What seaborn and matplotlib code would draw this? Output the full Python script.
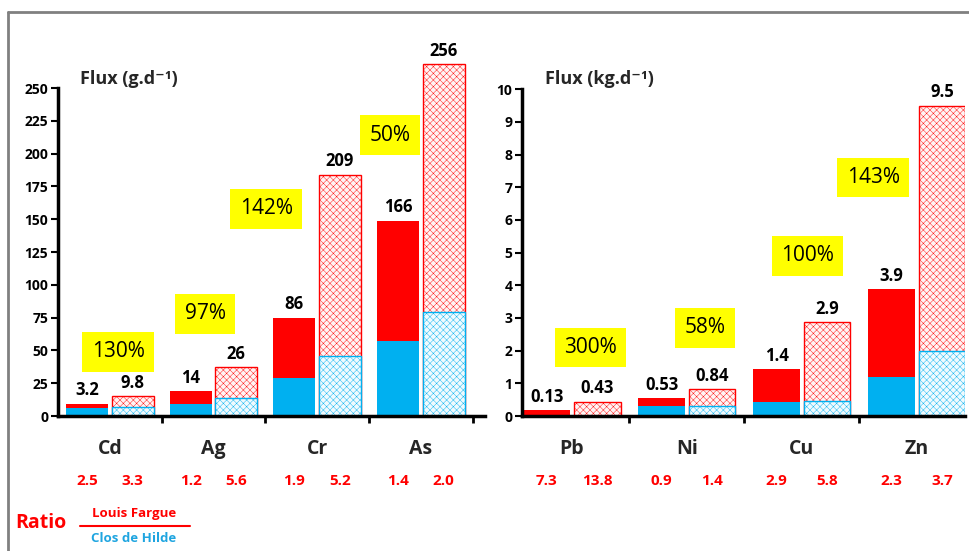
import numpy as np
import pandas as pd
import matplotlib.pyplot as plt
from matplotlib.lines import Line2D
import seaborn as sns

# --- data ---
left_elements = ['Cd', 'Ag', 'Cr', 'As']
right_elements = ['Pb', 'Ni', 'Cu', 'Zn']

# stacked bars as drawn: total height (red part on top) and blue part at the bottom
left_total_1 = [9.5, 19, 75, 149]
left_blue_1 = [6, 9.5, 29, 57]
left_total_2 = [15, 37, 184, 268]
left_blue_2 = [7, 14, 46, 79]

right_total_1 = [0.18, 0.54, 1.44, 3.89]
right_blue_1 = [0, 0.30, 0.44, 1.20]
right_total_2 = [0.44, 0.83, 2.87, 9.50]
right_blue_2 = [0, 0.32, 0.46, 1.99]

# value labels printed above the bars
left_labels_1 = ['3.2', '14', '86', '166']
left_labels_2 = ['9.8', '26', '209', '256']
right_labels_1 = ['0.13', '0.53', '1.4', '3.9']
right_labels_2 = ['0.43', '0.84', '2.9', '9.5']

# yellow percentage boxes
left_pct = ['130%', '97%', '142%', '50%']
right_pct = ['300%', '58%', '100%', '143%']

# ratios Louis Fargue / Clos de Hilde under each bar
left_ratio_1 = ['2.5', '1.2', '1.9', '1.4']
left_ratio_2 = ['3.3', '5.6', '5.2', '2.0']
right_ratio_1 = ['7.3', '0.9', '2.9', '2.3']
right_ratio_2 = ['13.8', '1.4', '5.8', '3.7']

RED = '#ff0000'
BLUE = '#00b0f0'
YELLOW = '#ffff00'
FONT = ['Open Sans', 'DejaVu Sans']

sns.set_theme(style='white')
plt.rcParams['font.family'] = FONT
plt.rcParams['hatch.linewidth'] = 0.3

W, H = 970, 551


def fx(px):
    return px / W


def fy(py):
    return 1 - py / H


def make_df(elements, t1, t2, b1, b2):
    return pd.DataFrame({
        'element': elements * 2,
        'series': ['1'] * 4 + ['2'] * 4,
        'total': t1 + t2,
        'blue': b1 + b2,
    })


def draw_panel(ax, df, elements, labels_1, labels_2, ratio_1, ratio_2,
               pct, pct_xy, ymax, ytop, yticks, xlim, xticks):
    kw = dict(data=df, x='element', hue='series', order=elements,
              hue_order=['1', '2'], width=0.88, gap=0.08, errorbar=None,
              legend=False, saturation=1, ax=ax)
    sns.barplot(y='total', palette=[RED, '#fff4f4'], **kw)
    sns.barplot(y='blue', palette=[BLUE, '#f0fafe'], **kw)

    c_red1, c_red2, c_blue1, c_blue2 = ax.containers[:4]
    for b in c_red1:
        b.set_edgecolor('none')
    for b in c_red2:
        b.set_edgecolor(RED)
        b.set_linewidth(1)
        b.set_hatch('xxxxx')
    for b in c_blue1:
        b.set_edgecolor('none')
    for b in c_blue2:
        b.set_edgecolor(BLUE)
        b.set_linewidth(1)
        b.set_hatch('xxxxx')

    # value labels above bars
    for cont, labs in ((c_red1, labels_1), (c_red2, labels_2)):
        for b, lab in zip(cont, labs):
            ax.annotate(lab, (b.get_x() + b.get_width() / 2, b.get_height()),
                        xytext=(0, 3), textcoords='offset points',
                        ha='center', va='bottom', fontsize=12,
                        fontweight='bold', color='black')

    # category names and ratios under the axis
    for i, el in enumerate(elements):
        ax.annotate(el, (i, 0), xycoords=('data', 'axes fraction'),
                    xytext=(0, -24), textcoords='offset points',
                    ha='center', va='center', fontsize=14, fontweight='bold')
    for cont, rats in ((c_red1, ratio_1), (c_red2, ratio_2)):
        for b, r in zip(cont, rats):
            ax.annotate(r, (b.get_x() + b.get_width() / 2, 0),
                        xycoords=('data', 'axes fraction'),
                        xytext=(0, -47), textcoords='offset points',
                        ha='center', va='center', fontsize=11,
                        fontweight='bold', color=RED)

    # yellow percentage boxes
    for txt, (x, y) in zip(pct, pct_xy):
        ax.text(x, y, txt, ha='center', va='center', fontsize=15,
                color='black',
                bbox=dict(boxstyle='square,pad=0.45', fc=YELLOW, ec='none'))

    ax.set_ylim(0, ytop)
    ax.set_xlim(*xlim)
    ax.set_yticks(yticks)
    ax.set_yticklabels([str(t) for t in yticks], fontweight='bold', fontsize=10)
    ax.set_xticks(xticks)
    ax.set_xticklabels([])
    ax.set_xlabel('')
    ax.set_ylabel('')
    ax.spines[['top', 'right']].set_visible(False)
    for s in ('left', 'bottom'):
        ax.spines[s].set_linewidth(2.5)
        ax.spines[s].set_color('black')
    ax.spines['left'].set_bounds(0, ymax)
    ax.tick_params(axis='y', length=5, width=1.5, direction='out', pad=2,
                   colors='black', left=True)
    ax.tick_params(axis='x', length=5, width=2, direction='out',
                   colors='black', bottom=True)
    ax.grid(False)


fig = plt.figure(figsize=(9.7, 5.51), dpi=100)
fig.patch.set_facecolor('white')

ax_l = fig.add_axes([fx(58), 135 / H, 427 / W, 275 * 1.312 / H])
ax_r = fig.add_axes([fx(522), 135 / H, 443 / W, 11 * 32.67 / H])

df_l = make_df(left_elements, left_total_1, left_total_2, left_blue_1, left_blue_2)
df_r = make_df(right_elements, right_total_1, right_total_2, right_blue_1, right_blue_2)

draw_panel(ax_l, df_l, left_elements, left_labels_1, left_labels_2,
           left_ratio_1, left_ratio_2, left_pct,
           [(0.08, 49), (0.92, 78), (1.51, 158), (2.70, 214)],
           250, 275, list(range(0, 251, 25)), (-0.5, 3.62),
           [0.5, 1.5, 2.5, 3.5])

draw_panel(ax_r, df_r, right_elements, right_labels_1, right_labels_2,
           right_ratio_1, right_ratio_2, right_pct,
           [(0.16, 2.1), (1.16, 2.7), (2.05, 4.9), (2.62, 7.3)],
           10, 11, list(range(0, 11)), (-0.435, 3.42),
           [0.5, 1.5, 2.5])

# axis titles
fig.text(fx(80), fy(79), 'Flux (g.d\u207b\u00b9)', fontsize=13,
         fontweight='bold', va='center', ha='left')
fig.text(fx(545), fy(79), 'Flux (kg.d\u207b\u00b9)', fontsize=13,
         fontweight='bold', va='center', ha='left')

# ratio legend
fig.text(fx(15), fy(523), 'Ratio', color=RED, fontsize=14,
         fontweight='bold', va='center', ha='left')
fig.text(fx(134), fy(514), 'Louis Fargue', color=RED, fontsize=9.5,
         fontweight='bold', va='center', ha='center')
fig.text(fx(134), fy(538), 'Clos de Hilde', color='#1fa5e0', fontsize=9.5,
         fontweight='bold', va='center', ha='center')
fig.add_artist(Line2D([fx(80), fx(190)], [fy(526), fy(526)], color=RED, lw=1.5))

# grey frame
fig.add_artist(Line2D([fx(8), fx(8)], [0, fy(12)], color='#808080', lw=2))
fig.add_artist(Line2D([fx(8), 1], [fy(12), fy(12)], color='#808080', lw=2))

fig.savefig('out.png', dpi=100, facecolor='white')
